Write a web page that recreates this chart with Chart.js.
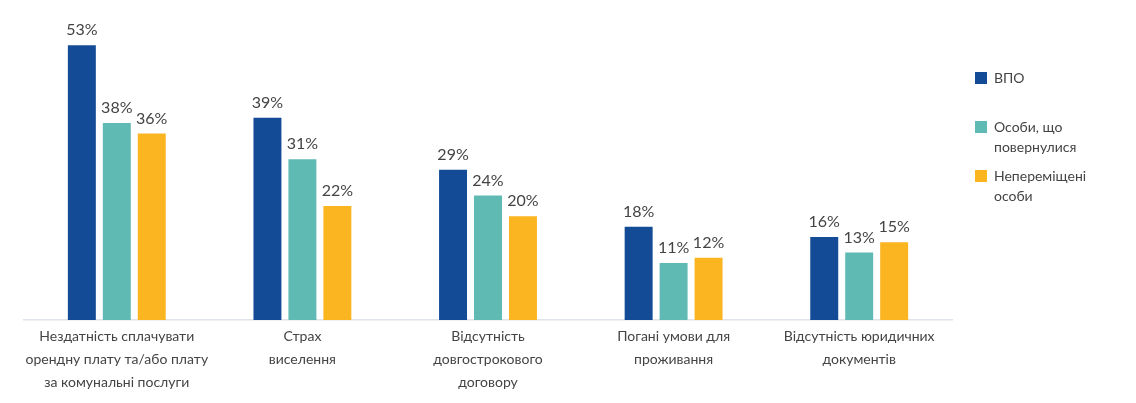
<!DOCTYPE html>
<html>
<head>
<meta charset="utf-8">
<script src="https://cdn.jsdelivr.net/npm/chart.js@4/dist/chart.umd.min.js"></script>
<style>
  html,body{margin:0;padding:0;background:#fff;}
  #wrap{position:relative;width:1136px;height:403px;}
  #legend{position:absolute;left:975px;top:68px;font-family:Lato,"Open Sans",sans-serif;font-size:14px;color:#444;line-height:20px;}
  #legend .item{display:flex;align-items:flex-start;margin-bottom:9px;}
  #legend .item:first-child{margin-bottom:29px;}
  #legend .box{width:12px;height:12px;margin:4px 7px 0 0;flex:none;}
  #legend .txt{width:100px;}
</style>
</head>
<body>
<div id="wrap">
  <canvas id="c" width="1136" height="403"></canvas>
  <div id="legend"></div>
</div>
<script>
const categories = [
  ['Нездатність сплачувати', 'орендну плату та/або плату', 'за комунальні послуги'],
  ['Страх', 'виселення'],
  ['Відсутність', 'довгострокового', 'договору'],
  ['Погані умови для', 'проживання'],
  ['Відсутність юридичних', 'документів']
];
const seriesNames = ['ВПО', 'Особи, що повернулися', 'Непереміщені особи'];
const idpValues = [53, 39, 29, 18, 16];
const returneeValues = [38, 31, 24, 11, 13];
const nonDisplacedValues = [36, 22, 20, 12, 15];
const colors = ['#134b96', '#5fbab4', '#fbb521'];

const valueLabels = {
  id: 'valueLabels',
  afterDatasetsDraw(chart){
    const ctx = chart.ctx;
    ctx.save();
    ctx.font = '16px Lato, "Open Sans", sans-serif';
    ctx.fillStyle = '#444';
    ctx.textAlign = 'center';
    ctx.textBaseline = 'bottom';
    chart.data.datasets.forEach((ds, i) => {
      chart.getDatasetMeta(i).data.forEach((bar, j) => {
        ctx.fillText(ds.data[j] + '%', bar.x, bar.y - 7);
      });
    });
    ctx.restore();
  }
};

const chart = new Chart(document.getElementById('c'), {
  type: 'bar',
  data: {
    labels: categories,
    datasets: [
      { label: seriesNames[0], data: idpValues, backgroundColor: colors[0] },
      { label: seriesNames[1], data: returneeValues, backgroundColor: colors[1] },
      { label: seriesNames[2], data: nonDisplacedValues, backgroundColor: colors[2] }
    ]
  },
  options: {
    responsive: false,
    animation: false,
    layout: { padding: { left: 24, right: 184, top: 9, bottom: 0 } },
    datasets: { bar: { categoryPercentage: 0.565, barPercentage: 0.8 } },
    plugins: { legend: { display: false }, tooltip: { enabled: false } },
    scales: {
      x: {
        grid: { display: false, drawTicks: false },
        border: { display: true, color: '#dfe3ea', width: 1.5 },
        ticks: {
          color: '#444',
          padding: 5,
          maxRotation: 0,
          autoSkip: false,
          font: { family: 'Lato, "Open Sans", sans-serif', size: 14, lineHeight: 1.65 }
        },
        afterFit(scale){ scale.height = 83; }
      },
      y: { display: false, min: 0, max: 60 }
    }
  },
  plugins: [valueLabels]
});

// html legend from datasets
const legend = document.getElementById('legend');
chart.data.datasets.forEach(ds => {
  const item = document.createElement('div');
  item.className = 'item';
  item.innerHTML = '<span class="box" style="background:' + ds.backgroundColor + '"></span><span class="txt">' + ds.label + '</span>';
  legend.appendChild(item);
});
</script>
</body>
</html>
